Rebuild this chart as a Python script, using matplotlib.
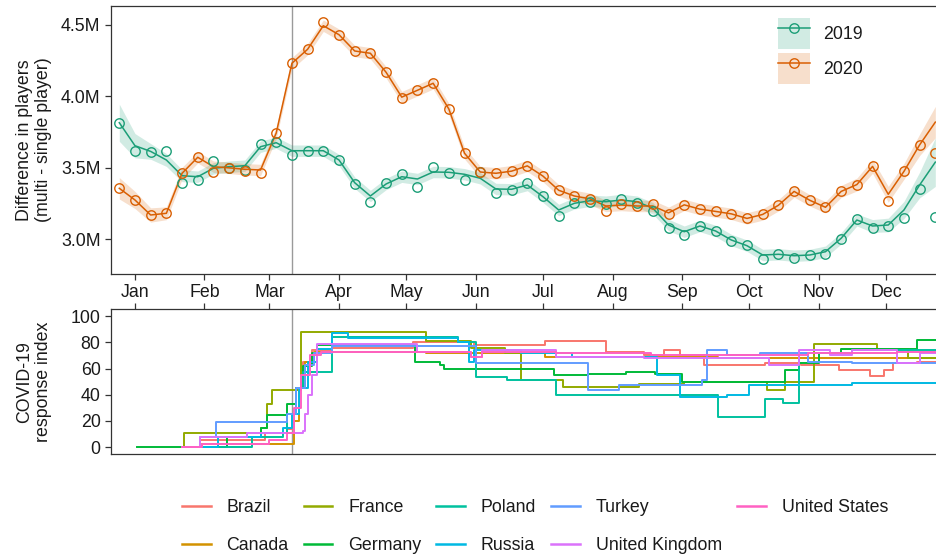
import numpy as np
import pandas as pd
import matplotlib
matplotlib.use("Agg")
import matplotlib.pyplot as plt
from matplotlib.patches import Patch
from matplotlib.lines import Line2D
from matplotlib.legend_handler import HandlerTuple
from matplotlib.ticker import FuncFormatter

plt.rcParams['font.family'] = ['Liberation Sans', 'DejaVu Sans']

# ---------------- data ----------------
base_date = pd.Timestamp('2020-01-01')
week_dates = pd.date_range('2019-12-25', periods=53, freq='7D')
week_x = (week_dates - base_date).days.values

pts_2019 = [3.816, 3.618, 3.613, 3.618, 3.396, 3.413, 3.548, 3.497, 3.485, 3.669,
            3.679, 3.588, 3.620, 3.618, 3.555, 3.387, 3.261, 3.394, 3.457, 3.368,
            3.504, 3.466, 3.415, 3.470, 3.326, 3.345, 3.394, 3.302, 3.166, 3.255,
            3.263, 3.250, 3.283, 3.251, 3.199, 3.080, 3.030, 3.096, 3.056, 2.988,
            2.960, 2.863, 2.899, 2.871, 2.888, 2.899, 3.004, 3.142, 3.079, 3.095,
            3.149, 3.350, 3.154]
line_2019 = [3.816, 3.655, 3.615, 3.555, 3.445, 3.438, 3.497, 3.508, 3.515, 3.648,
             3.676, 3.620, 3.620, 3.620, 3.555, 3.396, 3.303, 3.387, 3.438, 3.422,
             3.471, 3.469, 3.455, 3.427, 3.352, 3.350, 3.380, 3.298, 3.205, 3.252,
             3.270, 3.263, 3.275, 3.263, 3.217, 3.100, 3.053, 3.093, 3.058, 2.995,
             2.955, 2.890, 2.895, 2.885, 2.890, 2.913, 3.007, 3.135, 3.093, 3.100,
             3.205, 3.380, 3.540]
band_2019 = [0.130, 0.085, 0.055, 0.045, 0.042, 0.040, 0.040, 0.040, 0.040, 0.040,
             0.040, 0.040, 0.040, 0.040, 0.040, 0.040, 0.040, 0.040, 0.040, 0.040,
             0.040, 0.040, 0.040, 0.040, 0.040, 0.040, 0.040, 0.040, 0.040, 0.040,
             0.040, 0.040, 0.040, 0.040, 0.040, 0.040, 0.040, 0.040, 0.040, 0.040,
             0.040, 0.040, 0.040, 0.040, 0.040, 0.040, 0.040, 0.042, 0.045, 0.048,
             0.060, 0.090, 0.170]

pts_2020 = [3.357, 3.275, 3.170, 3.182, 3.462, 3.574, 3.473, 3.497, 3.480, 3.464,
            3.744, 4.232, 4.330, 4.519, 4.432, 4.318, 4.302, 4.169, 3.987, 4.043,
            4.092, 3.912, 3.602, 3.471, 3.462, 3.477, 3.514, 3.442, 3.343, 3.303,
            3.283, 3.198, 3.246, 3.232, 3.247, 3.177, 3.241, 3.211, 3.195, 3.178,
            3.146, 3.174, 3.238, 3.335, 3.273, 3.224, 3.335, 3.383, 3.510, 3.268,
            3.475, 3.661, 3.604]
line_2020 = [3.357, 3.275, 3.170, 3.182, 3.462, 3.574, 3.508, 3.500, 3.490, 3.485,
             3.744, 4.232, 4.330, 4.495, 4.432, 4.318, 4.302, 4.169, 3.995, 4.043,
             4.092, 3.912, 3.602, 3.471, 3.462, 3.477, 3.514, 3.442, 3.343, 3.303,
             3.283, 3.233, 3.240, 3.233, 3.233, 3.185, 3.241, 3.211, 3.195, 3.178,
             3.146, 3.174, 3.238, 3.335, 3.273, 3.224, 3.335, 3.383, 3.510, 3.315,
             3.475, 3.661, 3.820]
band_2020 = [0.075, 0.060, 0.050, 0.045, 0.042, 0.040, 0.040, 0.040, 0.040, 0.040,
             0.040, 0.040, 0.040, 0.040, 0.040, 0.040, 0.040, 0.040, 0.040, 0.040,
             0.040, 0.040, 0.040, 0.040, 0.040, 0.040, 0.040, 0.040, 0.040, 0.040,
             0.040, 0.040, 0.040, 0.040, 0.040, 0.040, 0.040, 0.040, 0.040, 0.040,
             0.040, 0.040, 0.040, 0.040, 0.040, 0.040, 0.042, 0.045, 0.048, 0.055,
             0.055, 0.075, 0.110]

years = ['2019', '2020']
year_colors = ['#1B9E77', '#D95F02']

# COVID-19 response index: change days (days since 2020-01-01) and values
brazil_days = [21, 29, 58, 68, 70, 72, 75, 79, 88, 124, 151, 183, 210, 227, 236, 243, 254, 281, 297, 314, 328, 334, 338, 349, 362]
brazil_vals = [0, 5.5, 10.9, 14, 25, 45, 65, 74, 76, 80.4, 78, 81.2, 72.8, 70.3, 74, 70.3, 62.6, 63.9, 62.6, 58.8, 54.2, 58.8, 63.9, 65.2, 65.2]

canada_days = [21, 30, 69, 71, 73, 76, 80, 130, 183, 260, 362]
canada_vals = [0, 2.3, 2.3, 20, 45, 65, 72.8, 71.5, 69, 67.7, 68]

france_days = [21, 22, 56, 59, 61, 74, 130, 150, 165, 172, 191, 225, 245, 282, 290, 303, 331, 345, 362]
france_vals = [0, 10.9, 14.7, 33, 44, 88, 81, 76, 71.5, 51.6, 46, 48, 49.9, 44, 49.9, 79, 75, 68, 68]

germany_days = [1, 41, 56, 59, 68, 72, 75, 79, 81, 125, 136, 138, 187, 202, 219, 232, 244, 290, 296, 305, 315, 349, 362]
germany_vals = [0, 7.9, 14.7, 24.4, 33.3, 45, 62, 72, 78, 65.2, 62.6, 60, 55, 56, 57.5, 55.6, 49.9, 58.8, 64, 72, 75, 82, 82]

poland_days = [21, 52, 66, 68, 72, 75, 88, 144, 152, 166, 188, 260, 281, 289, 296, 320, 362]
poland_vals = [0, 7.9, 10.9, 25, 45, 57.5, 84.2, 80.4, 53.7, 51.1, 39.7, 23.2, 37, 34, 71.5, 74, 74]

russia_days = [21, 37, 56, 66, 70, 73, 77, 81, 88, 95, 144, 149, 151, 172, 195, 233, 243, 264, 274, 320, 362]
russia_vals = [0, 7.9, 10.9, 14.7, 25, 45, 65, 75, 86.8, 83, 80.4, 65, 74, 71.5, 69, 55, 38.4, 40, 47.3, 48.6, 48.6]

turkey_days = [21, 29, 36, 63, 68, 72, 76, 80, 88, 152, 202, 216, 253, 255, 264, 279, 300, 320, 362]
turkey_vals = [0, 7.9, 19.3, 19.3, 25, 45, 63, 72, 77, 63.9, 43.5, 47.3, 51, 74, 70.3, 72, 65, 64, 62.6]

uk_days = [21, 29, 50, 75, 76, 77, 79, 81, 126, 150, 155, 188, 227, 283, 296, 310, 320, 340, 350, 362]
uk_vals = [0, 7.9, 10.9, 12, 25, 40, 55, 79, 72.8, 69, 74, 69, 67.7, 62.6, 74.5, 70.3, 74, 64, 71.5, 71.5]

us_days = [21, 30, 60, 68, 71, 74, 78, 83, 126, 150, 155, 188, 230, 280, 300, 340, 362]
us_vals = [0, 2.3, 5.3, 11, 30, 55, 70, 72.8, 72.8, 69, 72.8, 71.5, 70.3, 70.3, 72, 73, 73]

countries = ['Brazil', 'Canada', 'France', 'Germany', 'Poland', 'Russia',
             'Turkey', 'United Kingdom', 'United States']
country_colors = ['#F8766D', '#D39200', '#93AA00', '#00BA38', '#00C19F',
                  '#00B9E3', '#619CFF', '#DB72FB', '#FF61C3']
country_days = [brazil_days, canada_days, france_days, germany_days, poland_days,
                russia_days, turkey_days, uk_days, us_days]
country_vals = [brazil_vals, canada_vals, france_vals, germany_vals, poland_vals,
                russia_vals, turkey_vals, uk_vals, us_vals]

pandemic_day = (pd.Timestamp('2020-03-11') - base_date).days
month_starts = pd.date_range('2020-01-01', '2020-12-01', freq='MS')
month_x = (month_starts - base_date).days.values
month_labels = [d.strftime('%b') for d in month_starts]

# ---------------- figure ----------------
W, H = 936, 554
fig = plt.figure(figsize=(W / 100, H / 100), dpi=100)

def frac(x0, y0, x1, y1):
    return [x0 / W, 1 - y1 / H, (x1 - x0) / W, (y1 - y0) / H]

ax1 = fig.add_axes(frac(111, 5.7, 936, 274))
ax2 = fig.add_axes(frac(111, 309.3, 936, 454))

xlim = (-10.7, 357.3)
spine_c = '#333333'
text_c = '#1a1a1a'
fs = 12.8

for ax in (ax1, ax2):
    ax.set_xlim(*xlim)
    for s in ('left', 'top', 'bottom'):
        ax.spines[s].set_color(spine_c)
        ax.spines[s].set_linewidth(0.9)
    ax.spines['right'].set_visible(False)
    ax.tick_params(axis='both', colors=spine_c, labelcolor=text_c, labelsize=fs,
                   length=4, width=0.9, direction='out', pad=3.5)
    ax.axvline(pandemic_day, color='#9a9a9a', lw=1.0, zorder=1)

# top panel
for yr, col, pts, ln, bd in zip(years, year_colors, [pts_2019, pts_2020],
                                [line_2019, line_2020], [band_2019, band_2020]):
    ln_a = np.array(ln)
    bd_a = np.array(bd)
    ax1.fill_between(week_x, ln_a - bd_a, ln_a + bd_a, color=col, alpha=0.2,
                     lw=0, zorder=2)
    ax1.plot(week_x, ln_a, color=col, lw=1.1, zorder=3)
    ax1.plot(week_x, pts, ls='none', marker='o', ms=6.8, mfc='none', mec=col,
             mew=1.0, zorder=4)

ax1.set_ylim(2.757, 4.635)
ax1.set_yticks([3.0, 3.5, 4.0, 4.5])
ax1.yaxis.set_major_formatter(FuncFormatter(lambda v, p: f'{v:.1f}M'))
ax1.set_xticks(month_x)
ax1.set_xticklabels(month_labels)
ax1.tick_params(axis='x', pad=3)
ax1.set_ylabel('Difference in players\n(multi - single player)', fontsize=fs,
               color=text_c, linespacing=1.15)
ax1.yaxis.set_label_coords(-0.071, 0.5)

handles = []
for yr, col in zip(years, year_colors):
    handles.append((Patch(facecolor=col, alpha=0.2, edgecolor='none'),
                    Line2D([], [], color=col, lw=1.1, marker='o', ms=6.8,
                           mfc='none', mec=col, mew=1.0)))
leg1 = ax1.legend(handles, years, handler_map={tuple: HandlerTuple(ndivide=1, pad=0)},
                  loc='upper left', bbox_to_anchor=(769 / W, 1 - 9 / H),
                  bbox_transform=fig.transFigure, frameon=False, borderpad=0,
                  handlelength=1.8, handleheight=2.3, labelspacing=0.22,
                  handletextpad=0.75, fontsize=fs)
for t in leg1.get_texts():
    t.set_color(text_c)

# bottom panel
for name, col, dd, vv in zip(countries, country_colors, country_days, country_vals):
    ax2.step(dd, vv, where='post', color=col, lw=1.4, label=name, zorder=3)

ax2.set_ylim(-5.2, 105.2)
ax2.set_yticks([0, 20, 40, 60, 80, 100])
ax2.set_xticks(month_x)
ax2.tick_params(axis='x', top=True, bottom=False, labeltop=False, labelbottom=False)
ax2.set_ylabel('COVID-19\nresponse index', fontsize=fs, color=text_c, linespacing=1.15)
ax2.yaxis.set_label_coords(-0.071, 0.5)

leg_handles = [Line2D([], [], color=c, lw=1.8) for c in country_colors]
leg2 = fig.legend(leg_handles, countries, loc='center', ncol=5,
                  bbox_to_anchor=(535 / W, 1 - 526.5 / H), frameon=False,
                  fontsize=fs, handlelength=1.6, handletextpad=0.9,
                  columnspacing=0.85, labelspacing=1.15, borderpad=0)
for t in leg2.get_texts():
    t.set_color(text_c)

fig.savefig('out.png', dpi=100)
